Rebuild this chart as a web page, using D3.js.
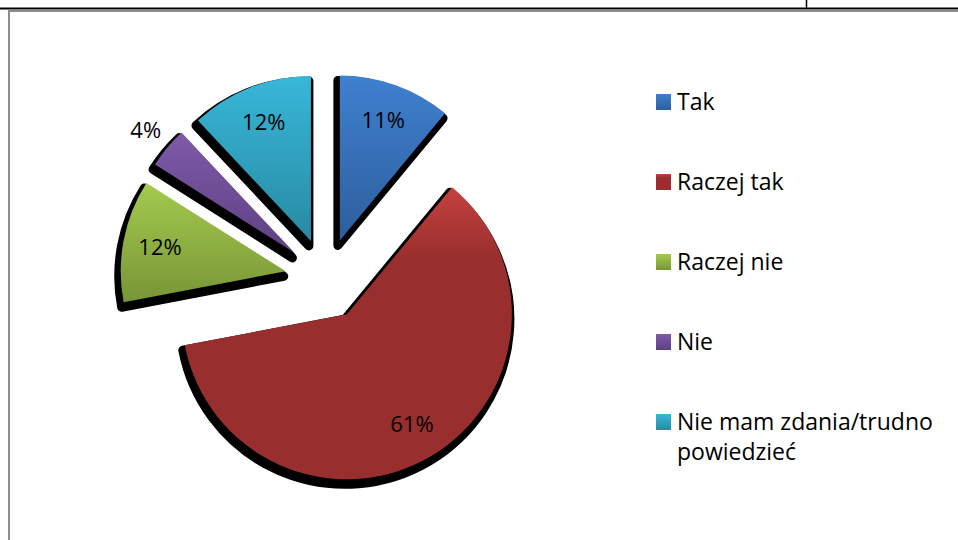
<!DOCTYPE html>
<html>
<head>
<meta charset="utf-8">
<script src="https://cdn.jsdelivr.net/npm/d3@7"></script>
<style>
  body { margin: 0; background: #fff; }
  svg { display: block; }
  text { font-family: "Open Sans", sans-serif; fill: #000; }
</style>
</head>
<body>
<svg width="958" height="540"></svg>
<script>
// data
var categories = ["Tak", "Raczej tak", "Raczej nie", "Nie", "Nie mam zdania/trudno powiedzieć"];
var values = [11, 61, 12, 4, 12];
var percentLabels = ["11%", "61%", "12%", "4%", "12%"];
var legendLines = [["Tak"], ["Raczej tak"], ["Raczej nie"], ["Nie"], ["Nie mam zdania/trudno", "powiedzieć"]];
var colorsTop = ["#3f80d0", "#c4423f", "#a4ca4e", "#7f5aa9", "#37b7d8"];
var colorsBottom = ["#2d5e9c", "#982e2d", "#779636", "#5d4182", "#288aa3"];

var svg = d3.select("svg");
var defs = svg.append("defs");

// frame lines (table cell borders)
svg.append("line").attr("x1", 0).attr("x2", 958).attr("y1", 8.5).attr("y2", 8.5)
   .attr("stroke", "#000").attr("stroke-width", 2);
svg.append("line").attr("x1", 806.5).attr("x2", 806.5).attr("y1", 0).attr("y2", 8)
   .attr("stroke", "#000").attr("stroke-width", 1.5);
svg.append("line").attr("x1", 8).attr("x2", 958).attr("y1", 11).attr("y2", 11)
   .attr("stroke", "#8c8c8c").attr("stroke-width", 2);
svg.append("line").attr("x1", 9).attr("x2", 9).attr("y1", 10).attr("y2", 540)
   .attr("stroke", "#8c8c8c").attr("stroke-width", 2);

var radius = 165, explode = 41, labelR = 128, outsideR = 193;
var cx = 326, cy = 279;

var pie = d3.pie().sort(null).value(function(d) { return d; });
var arcs = pie(values);

var arc = d3.arc().innerRadius(0).outerRadius(radius);
var offsetArc = d3.arc().innerRadius(explode).outerRadius(explode);
var labelArc = d3.arc().innerRadius(labelR).outerRadius(labelR);
var outArc = d3.arc().innerRadius(outsideR).outerRadius(outsideR);

// gradients
values.forEach(function(v, i) {
    var g = defs.append("linearGradient").attr("id", "grad" + i)
        .attr("x1", 0).attr("y1", 0).attr("x2", 0).attr("y2", 1);
    g.append("stop").attr("offset", 0).attr("stop-color", colorsTop[i]);
    g.append("stop").attr("offset", i == 1 ? 0.25 : 1).attr("stop-color", colorsBottom[i]);
});

var chart = svg.append("g").attr("transform", "translate(" + cx + "," + cy + ")");

var slices = chart.selectAll("g.slice")
    .data(arcs)
    .enter()
    .append("g")
    .attr("class", "slice")
    .attr("transform", function(d) {
        return "translate(" + offsetArc.centroid(d) + ")";
    });

// shadows first, so every slice sits on top of them
slices.append("path")
    .attr("d", arc)
    .attr("transform", "translate(-2,5)")
    .attr("fill", "#000")
    .attr("stroke", "#000")
    .attr("stroke-width", 9)
    .attr("stroke-linejoin", "round");

slices.append("path")
    .attr("d", arc)
    .attr("fill", function(d, i) { return "url(#grad" + i + ")"; });

slices.append("text")
    .attr("transform", function(d) {
        var p = d.data < 5 ? outArc.centroid(d) : labelArc.centroid(d);
        return "translate(" + p + ")";
    })
    .attr("text-anchor", "middle")
    .attr("dy", "0.35em")
    .style("font-size", "22px")
    .text(function(d, i) { return percentLabels[i]; });

// legend
var legend = svg.append("g").attr("transform", "translate(656,102)");
var item = legend.selectAll("g")
    .data(categories)
    .enter()
    .append("g")
    .attr("transform", function(d, i) { return "translate(0," + (i * 80) + ")"; });

item.append("rect")
    .attr("x", 0).attr("y", -8).attr("width", 15).attr("height", 16)
    .attr("fill", function(d, i) { return "url(#grad" + i + ")"; });

item.append("text")
    .attr("x", 21)
    .attr("y", 8)
    .style("font-size", "23px")
    .selectAll("tspan")
    .data(function(d, i) { return legendLines[i]; })
    .enter()
    .append("tspan")
    .attr("x", 21)
    .attr("dy", function(d, j) { return j ? 30 : 0; })
    .text(function(d) { return d; });
</script>
</body>
</html>
